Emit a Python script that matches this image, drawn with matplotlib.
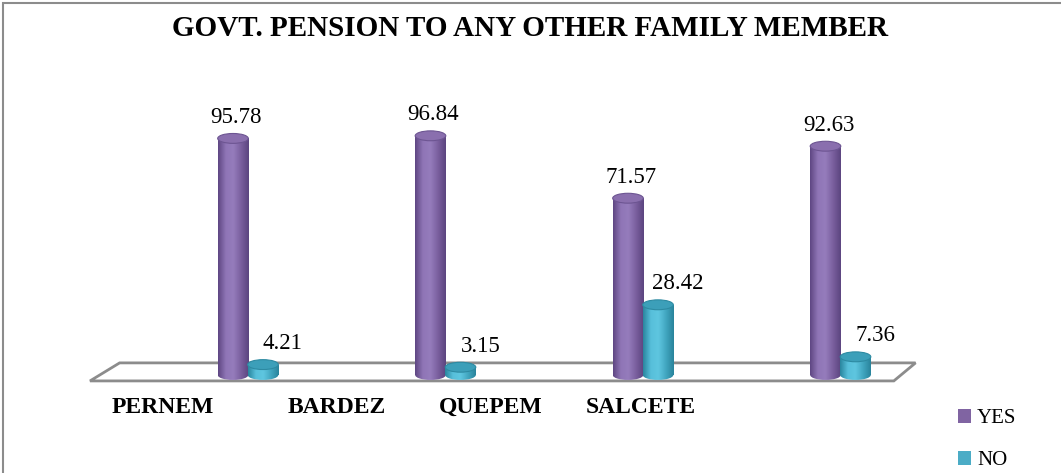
import numpy as np
import matplotlib
import matplotlib.pyplot as plt
from matplotlib.patches import Rectangle, Ellipse, Polygon, Patch
from matplotlib.colors import LinearSegmentedColormap

# data
districts = ["PERNEM", "BARDEZ", "QUEPEM", "SALCETE"]
yes_vals = [95.78, 96.84, 71.57, 92.63]
no_vals = [4.21, 3.15, 28.42, 7.36]
series = ["YES", "NO"]

# style / layout
YES_COL = '#8064A2'
NO_COL = '#4BACC6'
yes_cmap = LinearSegmentedColormap.from_list('y', ['#5f4783', '#8f75b6', '#957cbc', '#7a5f9e', '#5c4580'])
no_cmap = LinearSegmentedColormap.from_list('n', ['#2a869f', '#57bfda', '#5fc6e0', '#41a6c0', '#2a849c'])
label_x = [-0.43, 0.45, 1.23, 1.99]   # where the category labels sit (they're offset in the original)
BAR_W = 0.155
OFF = 0.076
ELL_H = 4.0

matplotlib.rcParams['font.family'] = 'Liberation Serif'

fig = plt.figure(figsize=(10.61, 4.73), dpi=100)
ax = fig.add_axes([0, 0, 1, 1])
ax.set_axis_off()


def cylinder(x, v, cmap, top_col, edge_col, z):
    x0, x1 = x - BAR_W / 2, x + BAR_W / 2
    grad = np.linspace(0, 1, 64).reshape(1, -1)
    body = Rectangle((x0, 0), BAR_W, v, facecolor='none', edgecolor='none')
    bot = Ellipse((x, 0), BAR_W, ELL_H, facecolor='none', edgecolor='none')
    for p, ext in [(body, [x0, x1, 0, v]), (bot, [x0, x1, -ELL_H / 2, ELL_H / 2])]:
        ax.add_patch(p)
        im = ax.imshow(grad, extent=ext, aspect='auto', cmap=cmap, zorder=z, interpolation='bilinear')
        im.set_clip_path(p)
    ax.add_patch(Ellipse((x, v), BAR_W, ELL_H, facecolor=top_col, edgecolor=edge_col,
                         lw=0.8, zorder=z + 0.1))


# floor
floor = Polygon([(-0.80, -2.4), (-0.65, 4.9), (3.38, 4.9), (3.27, -2.4)], closed=True,
                facecolor='white', edgecolor='#8c8c8c', lw=2, zorder=1)
ax.add_patch(floor)

for i in range(len(yes_vals)):
    cylinder(i - OFF, yes_vals[i], yes_cmap, '#8a6fae', '#6d5592', 2)
    cylinder(i + OFF, no_vals[i], no_cmap, '#3c9fb9', '#2d8aa2', 3)
    ax.text(i - OFF + 0.015, yes_vals[i] + 6.2, f'{yes_vals[i]:.2f}', ha='center', va='baseline',
            fontsize=16.5, zorder=5)
    ax.text(i + OFF + 0.1, no_vals[i] + 6.2, f'{no_vals[i]:.2f}', ha='center', va='baseline',
            fontsize=16.5, zorder=5)

for lx, name in zip(label_x, districts):
    ax.text(lx, -13, name, ha='center', va='center', fontsize=17, fontweight='bold')

ax.set_xlim(-248 / 197.5, (1061 - 248) / 197.5)
ax.set_ylim(-39.68, 151.82)

handles = [Patch(facecolor=YES_COL, label=series[0]), Patch(facecolor=NO_COL, label=series[1])]
ax.legend(handles=handles, loc='upper left', bbox_to_anchor=(948 / 1061, 1 - 399 / 473),
          frameon=False, fontsize=15, labelspacing=1.1, handlelength=0.6, handleheight=0.6,
          handletextpad=0.3, borderpad=0)

fig.text(0.5, 1 - 28 / 473, "GOVT. PENSION TO ANY OTHER FAMILY MEMBER", ha='center', va='center',
         fontsize=21, fontweight='bold')

fig.patches.append(Rectangle((3 / 1061, -0.1), 1.2, 1 - 3 / 473 + 0.1, transform=fig.transFigure,
                             facecolor='none', edgecolor='#8c8c8c', lw=1.5))

fig.savefig('out.png', dpi=100)
